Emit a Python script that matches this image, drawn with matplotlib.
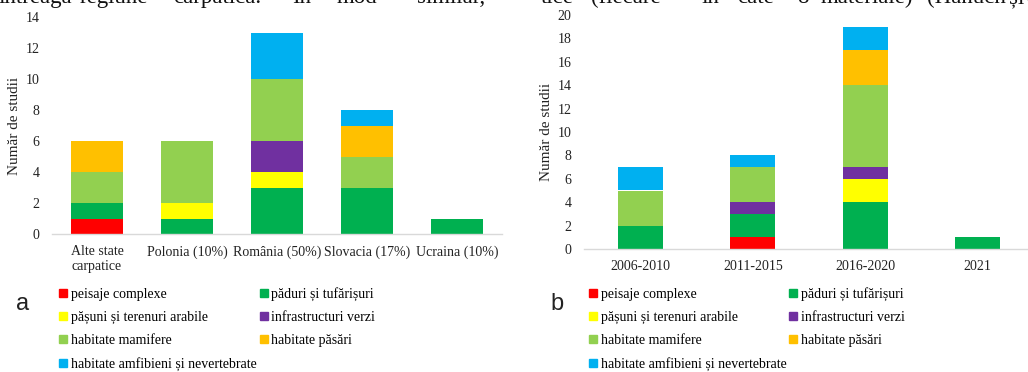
import numpy as np
import matplotlib
matplotlib.use("Agg")
import matplotlib.pyplot as plt
from matplotlib.lines import Line2D

plt.rcParams["font.family"] = ["Liberation Serif", "DejaVu Serif"]

series = ["peisaje complexe", "păduri și tufărișuri", "pășuni și terenuri arabile",
          "infrastructuri verzi", "habitate mamifere", "habitate păsări",
          "habitate amfibieni și nevertebrate"]
colors = ["#FF0000", "#00B050", "#FFFF00", "#7030A0", "#92D050", "#FFC000", "#00B0F0"]

# panel a - by country
countries = ["Alte state\ncarpatice", "Polonia (10%)", "România (50%)", "Slovacia (17%)", "Ucraina (10%)"]
vals_a = [
    [1, 0, 0, 0, 0],   # peisaje complexe
    [1, 1, 3, 3, 1],   # paduri
    [0, 1, 1, 0, 0],   # pasuni
    [0, 0, 2, 0, 0],   # infrastructuri
    [2, 4, 4, 2, 0],   # mamifere
    [2, 0, 0, 2, 0],   # pasari
    [0, 0, 3, 1, 0],   # amfibieni
]

# panel b - by period
periods = ["2006-2010", "2011-2015", "2016-2020", "2021"]
vals_b = [
    [0, 1, 0, 0],
    [2, 2, 4, 1],
    [0, 0, 2, 0],
    [0, 1, 1, 0],
    [3, 3, 7, 0],
    [0, 0, 3, 0],
    [2, 1, 2, 0],
]

W, H = 1028, 372
fig = plt.figure(figsize=(W / 100, H / 100), dpi=100)


def px_axes(x0, x1, ytop, ybot):
    return fig.add_axes([x0 / W, 1 - ybot / H, (x1 - x0) / W, (ybot - ytop) / H])


def stacked(ax, cats, vals, width, ymax, ystep):
    x = np.arange(len(cats))
    bottom = np.zeros(len(cats))
    for v, c in zip(vals, colors):
        v = np.array(v, dtype=float)
        ax.bar(x, v, width, bottom=bottom, color=c, edgecolor="none")
        bottom += v
    ax.set_xlim(-0.5, len(cats) - 0.5)
    ax.set_ylim(0, ymax)
    ax.set_yticks(np.arange(0, ymax + 1, ystep))
    ax.set_xticks(x)
    ax.set_xticklabels(cats, fontsize=10, linespacing=1.15)
    for s in ["top", "right", "left"]:
        ax.spines[s].set_visible(False)
    ax.spines["bottom"].set_color("#d9d9d9")
    ax.spines["bottom"].set_linewidth(1)
    ax.tick_params(axis="both", length=0, labelsize=10, colors="#222222")
    ax.tick_params(axis="y", pad=9)
    ax.tick_params(axis="x", pad=8)
    ax.set_ylabel("Număr de studii", fontsize=11, color="#222222")
    ax.yaxis.set_label_coords(-0.069, 0.5)


ax_a = px_axes(52, 502, 17, 234)
stacked(ax_a, countries, vals_a, 0.57, 14, 2)

ax_b = px_axes(584, 1034, 15, 249)
stacked(ax_b, periods, vals_b, 0.40, 20, 2)

# legends, row-wise order like the original
order = [0, 2, 4, 6, 1, 3, 5]
handles = [Line2D([], [], marker="s", linestyle="none", markersize=5.5,
                  color=colors[i]) for i in order]
labels = [series[i] for i in order]
for xa in [59, 589]:
    fig.legend(handles, labels, ncol=2, loc="upper left",
               bbox_to_anchor=(xa / W, 1 - 287 / H), frameon=False,
               fontsize=10, handlelength=0.6, handletextpad=0.25,
               columnspacing=0.2, labelspacing=0.72, borderpad=0,
               borderaxespad=0)

fig.text(16 / W, 1 - 310 / H, "a", fontsize=17, family="Liberation Sans",
         va="baseline", ha="left", color="#222222")
fig.text(550 / W, 1 - 310 / H, "b", fontsize=17, family="Liberation Sans",
         va="baseline", ha="left", color="#222222")

# clipped body text above the figure
words = [("întreaga", -2), ("regiune", 80), ("carpatică.", 173), ("În", 293),
         ("mod", 337), ("similar,", 417), ("tice", 541), ("(fiecare", 591),
         ("în", 701), ("câte", 737), ("8", 797), ("materiale)", 821),
         ("(Hanuch", 927), ("și", 1009), ("al", 1026)]
for w, xw in words:
    fig.text(xw / W, 1 - 3 / H, w, fontsize=16.5, va="baseline", ha="left",
             color="#111111")

fig.savefig("out.png", dpi=100)
